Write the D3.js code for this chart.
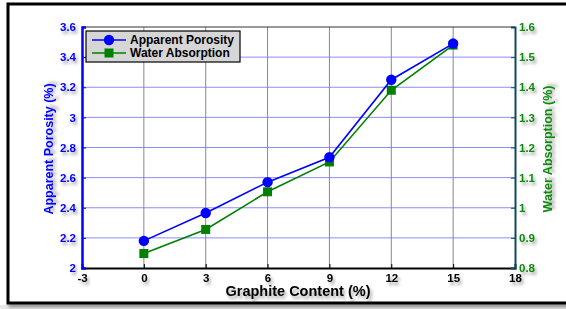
<!DOCTYPE html>
<html>
<head>
<meta charset="utf-8">
<script src="https://cdn.jsdelivr.net/npm/d3@7"></script>
<style>
  body { margin: 0; background: #fff; }
  svg text { font-family: "Liberation Sans", Arial, sans-serif; font-weight: bold; }
</style>
</head>
<body>
<div id="chart"></div>
<script>
// graphite content (%)
var graphite = [0, 3, 6, 9, 12, 15];
var porosity = [2.18, 2.365, 2.57, 2.735, 3.25, 3.49];
var absorption = [0.848, 0.928, 1.053, 1.152, 1.39, 1.54];
var xTicks = [-3, 0, 3, 6, 9, 12, 15, 18];
var leftTicks = [2, 2.2, 2.4, 2.6, 2.8, 3, 3.2, 3.4, 3.6];
var rightTicks = [0.8, 0.9, 1, 1.1, 1.2, 1.3, 1.4, 1.5, 1.6];

var width = 566, height = 309;
var plotL = 82, plotR = 515, plotT = 27, plotB = 268;

var svg = d3.select("#chart").append("svg")
  .attr("width", width).attr("height", height);

var defs = svg.append("defs");
var f = defs.append("filter").attr("id", "shadow")
  .attr("x", "-20%").attr("y", "-20%").attr("width", "150%").attr("height", "160%");
f.append("feDropShadow").attr("dx", 2).attr("dy", 3).attr("stdDeviation", 1.6)
  .attr("flood-color", "#000").attr("flood-opacity", 0.35);

// outer frame
svg.append("rect").attr("x", 0).attr("y", 305).attr("width", width).attr("height", 4).attr("fill", "#e8e8e8");
svg.append("rect").attr("x", 8).attr("y", 4).attr("width", 570).attr("height", 299)
  .attr("fill", "#fff").attr("stroke", "#000").attr("stroke-width", 3)
  .attr("filter", "url(#shadow)");

var x = d3.scaleLinear().domain([-3, 18]).range([plotL, plotR]);
var yL = d3.scaleLinear().domain([2, 3.6]).range([plotB, plotT]);
var yR = d3.scaleLinear().domain([0.8, 1.6]).range([plotB, plotT]);

var blue = "#0000ff", green = "#008000";
var fmt = function(d) { return String(+d.toFixed(1)); };

// grid
svg.append("g").selectAll("line").data(leftTicks.slice(1, -1)).enter().append("line")
  .attr("x1", plotL).attr("x2", plotR)
  .attr("y1", function(d) { return yL(d); }).attr("y2", function(d) { return yL(d); })
  .attr("stroke", "#8c8cff").attr("stroke-width", 1);
svg.append("g").selectAll("line").data(xTicks.slice(1, -1)).enter().append("line")
  .attr("y1", plotT).attr("y2", plotB)
  .attr("x1", function(d) { return x(d); }).attr("x2", function(d) { return x(d); })
  .attr("stroke", "#888").attr("stroke-width", 1);

// top line
svg.append("line").attr("x1", plotL).attr("x2", plotR).attr("y1", plotT).attr("y2", plotT)
  .attr("stroke", "#333").attr("stroke-width", 1);

// axes
var xAxis = svg.append("g").attr("transform", "translate(0," + plotB + ")")
  .call(d3.axisBottom(x).tickValues(xTicks).tickSize(-4).tickPadding(6).tickFormat(fmt));
xAxis.select(".domain").attr("stroke", "#000").attr("stroke-width", 2);
xAxis.selectAll("text").attr("font-size", 11.5).attr("fill", "#000").attr("filter", "url(#shadow)");

var lAxis = svg.append("g").attr("transform", "translate(" + plotL + ",0)")
  .call(d3.axisLeft(yL).tickValues(leftTicks).tickSize(-4).tickPadding(6).tickFormat(fmt));
lAxis.select(".domain").attr("stroke", blue).attr("stroke-width", 2.5);
lAxis.selectAll(".tick line").attr("stroke", blue);
lAxis.selectAll("text").attr("font-size", 11.5).attr("fill", blue).attr("filter", "url(#shadow)");

var rAxis = svg.append("g").attr("transform", "translate(" + plotR + ",0)")
  .call(d3.axisRight(yR).tickValues(rightTicks).tickSize(-4).tickPadding(4).tickFormat(fmt));
rAxis.select(".domain").attr("stroke", "#0f4a5a").attr("stroke-width", 2);
rAxis.selectAll(".tick line").attr("stroke", "#0f4a5a");
rAxis.selectAll("text").attr("font-size", 11.5).attr("fill", "#108a10").attr("filter", "url(#shadow)");

// axis titles
svg.append("text").attr("x", 298).attr("y", 296)
  .attr("text-anchor", "middle").attr("font-size", 14.5).attr("fill", "#000")
  .attr("filter", "url(#shadow)").text("Graphite Content (%)");
svg.append("text").attr("transform", "translate(53,149) rotate(-90)")
  .attr("text-anchor", "middle").attr("font-size", 12.5).attr("fill", blue)
  .attr("filter", "url(#shadow)").text("Apparent Porosity (%)");
svg.append("text").attr("transform", "translate(552,149) rotate(-90)")
  .attr("text-anchor", "middle").attr("font-size", 12.5).attr("fill", "#108a10")
  .attr("filter", "url(#shadow)").text("Water Absorption (%)");

// series
var lineL = d3.line().x(function(d, i) { return x(graphite[i]); }).y(function(d) { return yL(d); });
var lineR = d3.line().x(function(d, i) { return x(graphite[i]); }).y(function(d) { return yR(d); });

svg.append("path").attr("d", lineR(absorption)).attr("fill", "none").attr("stroke", green).attr("stroke-width", 1.6);
svg.append("g").selectAll("rect").data(absorption).enter().append("rect")
  .attr("x", function(d, i) { return x(graphite[i]) - 4.5; })
  .attr("y", function(d) { return yR(d) - 4.5; })
  .attr("width", 9).attr("height", 9).attr("fill", green);

svg.append("path").attr("d", lineL(porosity)).attr("fill", "none").attr("stroke", blue).attr("stroke-width", 1.6);
svg.append("g").selectAll("circle").data(porosity).enter().append("circle")
  .attr("cx", function(d, i) { return x(graphite[i]); })
  .attr("cy", function(d) { return yL(d); })
  .attr("r", 5.2).attr("fill", blue);

// legend
var lg = svg.append("g").attr("transform", "translate(86,31)");
lg.append("rect").attr("width", 154).attr("height", 31).attr("fill", "#d6d6d6")
  .attr("stroke", "#000").attr("stroke-width", 1.2);
lg.append("line").attr("x1", 6).attr("x2", 40).attr("y1", 9).attr("y2", 9).attr("stroke", blue).attr("stroke-width", 1.6);
lg.append("circle").attr("cx", 23).attr("cy", 9).attr("r", 5.2).attr("fill", blue);
lg.append("line").attr("x1", 6).attr("x2", 40).attr("y1", 22).attr("y2", 22).attr("stroke", green).attr("stroke-width", 1.6);
lg.append("rect").attr("x", 18.5).attr("y", 17.5).attr("width", 9).attr("height", 9).attr("fill", green);
lg.append("text").attr("x", 44).attr("y", 13).attr("font-size", 12).attr("fill", "#000").text("Apparent Porosity");
lg.append("text").attr("x", 44).attr("y", 26).attr("font-size", 12).attr("fill", "#000").text("Water Absorption");
</script>
</body>
</html>
